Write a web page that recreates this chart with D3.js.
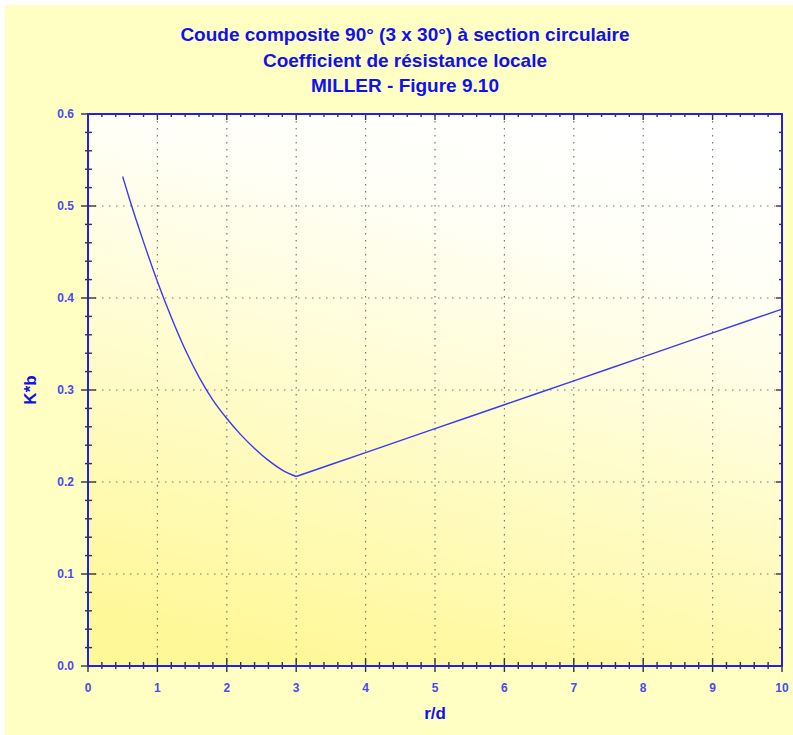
<!DOCTYPE html>
<html>
<head>
<meta charset="utf-8">
<script src="https://cdn.jsdelivr.net/npm/d3@7"></script>
<style>
  body { margin: 0; background: #fff; }
  text { font-family: "Liberation Sans", Arial, sans-serif; }
</style>
</head>
<body>
<div id="chart"></div>
<script>
// data
var rd = [0.5, 0.6, 0.8, 1.0, 1.2, 1.4, 1.6, 1.8, 2.0, 2.2, 2.4, 2.6, 2.8, 3.0,
          4, 5, 6, 7, 8, 9, 10];
var kb = [0.532, 0.507, 0.461, 0.418, 0.379, 0.344, 0.314, 0.289, 0.269, 0.2515, 0.2365, 0.2235, 0.213, 0.206,
          0.232, 0.258, 0.284, 0.310, 0.336, 0.362, 0.388];
var xTicks = [0, 1, 2, 3, 4, 5, 6, 7, 8, 9, 10];
var yTicks = [0, 0.1, 0.2, 0.3, 0.4, 0.5, 0.6];
var titleLines = ["Coude composite 90° (3 x 30°) à section circulaire",
                  "Coefficient de résistance locale",
                  "MILLER - Figure 9.10"];

var W = 793, H = 735;
var margin = {top: 114, right: 11, bottom: 69, left: 88},
    width = W - margin.left - margin.right,
    height = H - margin.top - margin.bottom;

var svg = d3.select("#chart").append("svg")
    .attr("width", W)
    .attr("height", H);

var defs = svg.append("defs");
var grad = defs.append("linearGradient")
    .attr("id", "plotbg")
    .attr("x1", "65%").attr("y1", "0%")
    .attr("x2", "35%").attr("y2", "100%");
grad.append("stop").attr("offset", "0%").attr("stop-color", "#ffffff");
grad.append("stop").attr("offset", "20%").attr("stop-color", "#fffff6");
grad.append("stop").attr("offset", "100%").attr("stop-color", "#fff899");

// outer background
svg.append("rect")
    .attr("x", 5).attr("y", 5)
    .attr("width", W - 5).attr("height", H - 5)
    .attr("fill", "#ffffc4");

// titles
svg.selectAll(".title")
  .data(titleLines)
  .enter().append("text")
    .attr("class", "title")
    .attr("x", 405)
    .attr("y", function(d, i) { return 41 + i * 25.5; })
    .attr("text-anchor", "middle")
    .attr("font-size", "19px")
    .attr("font-weight", "bold")
    .attr("fill", "#1010f0")
    .text(function(d) { return d; });

var g = svg.append("g")
    .attr("transform", "translate(" + margin.left + "," + margin.top + ")");

var x = d3.scaleLinear().domain([0, 10]).range([0, width]);
var y = d3.scaleLinear().domain([0, 0.6]).range([height, 0]);

g.append("rect")
    .attr("width", width)
    .attr("height", height)
    .attr("fill", "url(#plotbg)");

// grid
g.append("g").selectAll("line")
  .data(xTicks.slice(1, -1))
  .enter().append("line")
    .attr("x1", function(d) { return x(d); })
    .attr("x2", function(d) { return x(d); })
    .attr("y1", 0).attr("y2", height)
    .attr("stroke", "#777")
    .attr("stroke-width", 1.2)
    .attr("stroke-dasharray", "1.5,5.5");

g.append("g").selectAll("line")
  .data(yTicks.slice(1, -1))
  .enter().append("line")
    .attr("y1", function(d) { return y(d); })
    .attr("y2", function(d) { return y(d); })
    .attr("x1", 0).attr("x2", width)
    .attr("stroke", "#777")
    .attr("stroke-width", 1.2)
    .attr("stroke-dasharray", "1.5,5.5");

// minor / major ticks
var xMinor = d3.range(0, 50).map(function(i) { return i / 5; }).filter(function(d) { return d % 1 !== 0; });
var yMinor = d3.range(0, 30).map(function(i) { return i / 50; }).filter(function(d, i) { return i % 5 !== 0; });

var ticks = g.append("g").attr("stroke", "#333").attr("stroke-width", 1.4);
// bottom
ticks.selectAll(".bx").data(xMinor).enter().append("line")
    .attr("x1", function(d) { return x(d); }).attr("x2", function(d) { return x(d); })
    .attr("y1", height - 4).attr("y2", height + 3);
ticks.selectAll(".bX").data(xTicks).enter().append("line")
    .attr("x1", function(d) { return x(d); }).attr("x2", function(d) { return x(d); })
    .attr("y1", height - 8).attr("y2", height + 6);
// top
ticks.selectAll(".tx").data(xMinor).enter().append("line")
    .attr("x1", function(d) { return x(d); }).attr("x2", function(d) { return x(d); })
    .attr("y1", 0).attr("y2", 3);
ticks.selectAll(".tX").data(xTicks).enter().append("line")
    .attr("x1", function(d) { return x(d); }).attr("x2", function(d) { return x(d); })
    .attr("y1", 0).attr("y2", 6);
// left
ticks.selectAll(".ly").data(yMinor).enter().append("line")
    .attr("y1", function(d) { return y(d); }).attr("y2", function(d) { return y(d); })
    .attr("x1", -3).attr("x2", 4);
ticks.selectAll(".lY").data(yTicks).enter().append("line")
    .attr("y1", function(d) { return y(d); }).attr("y2", function(d) { return y(d); })
    .attr("x1", -7).attr("x2", 8);
// right
ticks.selectAll(".ry").data(yMinor).enter().append("line")
    .attr("y1", function(d) { return y(d); }).attr("y2", function(d) { return y(d); })
    .attr("x1", width - 3).attr("x2", width);
ticks.selectAll(".rY").data(yTicks).enter().append("line")
    .attr("y1", function(d) { return y(d); }).attr("y2", function(d) { return y(d); })
    .attr("x1", width - 6).attr("x2", width);

// frame
g.append("rect")
    .attr("width", width)
    .attr("height", height)
    .attr("fill", "none")
    .attr("stroke", "#2020e8")
    .attr("stroke-width", 2);

// tick labels
g.append("g").selectAll("text")
  .data(xTicks)
  .enter().append("text")
    .attr("x", function(d) { return x(d); })
    .attr("y", height + 26)
    .attr("text-anchor", "middle")
    .attr("font-size", "12px")
    .attr("font-weight", "bold")
    .attr("fill", "#4a4af0")
    .text(function(d) { return d; });

g.append("g").selectAll("text")
  .data(yTicks)
  .enter().append("text")
    .attr("x", -14)
    .attr("y", function(d) { return y(d) + 4; })
    .attr("text-anchor", "end")
    .attr("font-size", "12px")
    .attr("font-weight", "bold")
    .attr("fill", "#4a4af0")
    .text(function(d) { return d.toFixed(1); });

// axis titles
svg.append("text")
    .attr("x", margin.left + x(5))
    .attr("y", 719)
    .attr("text-anchor", "middle")
    .attr("font-size", "17px")
    .attr("font-weight", "bold")
    .attr("fill", "#1010f0")
    .text("r/d");

svg.append("text")
    .attr("transform", "translate(36," + (margin.top + y(0.3)) + ") rotate(-90)")
    .attr("text-anchor", "middle")
    .attr("font-size", "17px")
    .attr("font-weight", "bold")
    .attr("fill", "#1010f0")
    .text("K*b");

// curve
var pts = rd.map(function(d, i) { return [d, kb[i]]; });
var line = d3.line()
    .x(function(d) { return x(d[0]); })
    .y(function(d) { return y(d[1]); })
    .curve(d3.curveMonotoneX);

g.append("path")
    .datum(pts.slice(0, 14))
    .attr("fill", "none")
    .attr("stroke", "#3a3af5")
    .attr("stroke-width", 1.4)
    .attr("d", line);

g.append("path")
    .datum(pts.slice(13))
    .attr("fill", "none")
    .attr("stroke", "#3a3af5")
    .attr("stroke-width", 1.4)
    .attr("d", line);
</script>
</body>
</html>
